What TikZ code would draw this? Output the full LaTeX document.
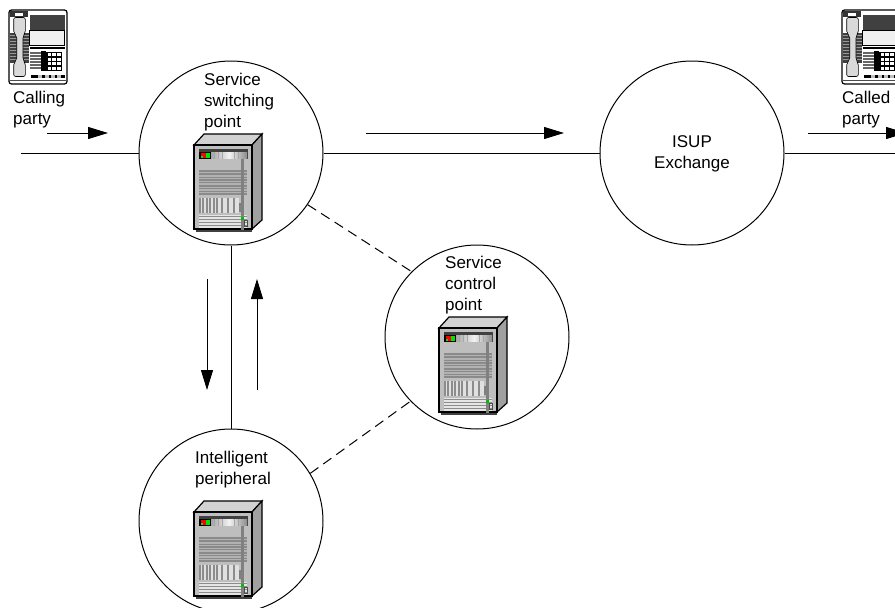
\documentclass[tikz,border=0pt]{standalone}
\usepackage{fontspec}
\setmainfont{Liberation Sans}
\usetikzlibrary{arrows.meta}
\definecolor{srvfront}{HTML}{BEBEBE}
\definecolor{srvside}{HTML}{A0A0A0}
\definecolor{srvtop}{HTML}{D2D2D2}
\definecolor{srvline}{HTML}{8A8A8A}
\tikzset{
  x=1pt,y=-1pt,
  station/.style={circle,draw=black,line width=1pt,minimum size=184pt,inner sep=0pt,fill=white},
  link/.style={line width=1pt,draw=black},
  dashlink/.style={line width=1pt,draw=black,dash pattern=on 10pt off 6pt},
  flow/.style={line width=1pt,draw=black,-{Triangle[length=20pt,width=12pt]}},
  lbl/.style={font=\fontsize{17}{21}\selectfont,align=left,anchor=base west,inner sep=0pt},
  serverpic/.pic={
    \fill[srvtop,draw=black,line width=1.2pt] (0,0)--(10,-11)--(68,-11)--(58,0)--cycle;
    \fill[srvside,draw=black,line width=1.2pt] (58,0)--(68,-11)--(68,75)--(58,84)--cycle;
    \fill[srvfront,draw=black,line width=1.2pt] (0,0) rectangle (58,84);
    \fill[black!75] (2,84.5) rectangle (58,87);
    \fill[black!75] (4.5,4.3) rectangle (53.7,14.3);
    \shade[left color=black!35,right color=black!45,middle color=black!5] (17,7) rectangle (53,13.5);
    \foreach \xx in {20,24,28,40,44}{\fill[black!35] (\xx,7) rectangle (\xx+1,13.5);}
    \fill[black] (5,6.5) rectangle (17,13.5);
    \fill[red] (6.5,8) rectangle (12,12.5);
    \fill[green!90!black] (12,8) rectangle (16.3,12.5);
    \fill[green!90!black] (6.5,10.5) rectangle (9,12.5);
    \fill[black!30] (5,25) rectangle (53,50);
    \foreach \yy/\tt in {25/1.6,28/2,31.5/1.2,34/2,37/1.2,39.5/2,43/1.2,45.5/1.5,48/2}{
      \fill[srvline] (5,\yy) rectangle (53,\yy+\tt);}
    \fill[black!12] (5,53) rectangle (45,68);
    \foreach \xx in {5,7.5,12,14.5,19,21.5,27,33,39}{
      \fill[black!45] (\xx,53) rectangle (\xx+2,68);}
    \fill[black!25] (45,53) rectangle (53,68);
    \fill[black!10] (5,70) rectangle (53,83);
    \foreach \yy in {71,74,77,80}{
      \fill[black!45] (5,\yy) rectangle (53,\yy+1.2);}
    \fill[black!50] (47.3,14) rectangle (49.7,85);
    \fill[black!50] (45,58) rectangle (47.3,67);
    \draw[black!70,line width=.4pt] (49.7,75) rectangle (53.5,81);
    \fill[green!75!black] (47,72) rectangle (49.7,74.5);
  },
  phonepic/.pic={
    \fill[white,draw=black,line width=1.2pt,rounded corners=2.5pt] (0,0) rectangle (58,74);
    \fill[black!75] (20.7,5) rectangle (55.7,20);
    \fill[black!6,draw=black,line width=.5pt] (20.7,20.7) rectangle (55.7,35);
    \fill[black] (20.7,36.7) rectangle (55.7,38.7);
    \fill[black!80] (1.3,1) rectangle (19,6.5);
    \fill[white] (6,3) rectangle (14,5.5);
    \fill[black!75] (1.3,23) rectangle (7.5,53);
    \fill[black!75] (14,23) rectangle (19.7,53);
    \foreach \yy in {25,28,...,51}{
      \fill[white!60!black] (1.3,\yy) rectangle (7.5,\yy+1);
      \fill[white!60!black] (14,\yy) rectangle (19.7,\yy+1);}
    \fill[black!15,draw=black,line width=.6pt,rounded corners=2pt]
      (4.7,7.5)--(16.3,7.5)--(16.3,23)--(14,26)--(14,50)--(16.3,53)--(16.3,66.5)--(4.7,66.5)--(4.7,53)--(7.7,50)--(7.7,26)--(4.7,23)--cycle;
    \fill[black] (32,41) rectangle (37,61);
    \foreach \yy in {42,45,48,51,54,57}{
      \fill[black!60] (21,\yy) rectangle (32,\yy+1.8);
      \fill[white] (21,\yy+1.8) rectangle (32,\yy+2.6);}
    \fill[black] (37,41.5) rectangle (53,61);
    \foreach \xa in {38.5,43.3,48.1}{\foreach \yy in {43,47.5,52,56.5}{
      \fill[white] (\xa,\yy) rectangle (\xa+3.6,\yy+3.4);}}
    \fill[black] (22,65) rectangle (56,68);
    \foreach \xa in {29,35.5,42,48}{\fill[black!25] (\xa,65.3) rectangle (\xa+4,67.7);}
    \fill[black!70] (1,69.5) rectangle (57,70.5);
  }
}
\begin{document}
\begin{tikzpicture}
\useasboundingbox (0,0) rectangle (895,608);
\clip (0,0) rectangle (895,608);
\fill[white] (0,0) rectangle (895,608);
\coordinate (inL) at (21,153);
\coordinate (outR) at (900,153);
\node[station] (ssp) at (231,153) {};
\node[station] (isup) at (692,153) {};
\node[station] (scp) at (477,337) {};
\node[station] (ip) at (231,521) {};
\draw[link] (inL) -- (ssp);
\draw[link] (ssp) -- (isup);
\draw[link] (isup) -- (outR);
\draw[link] (ssp.south) -- (ip.north);
\draw[dashlink] (ssp.-34) -- (scp.135);
\draw[dashlink] (ip.31) -- (scp.224);
\coordinate (a1s) at (47,133); \coordinate (a1e) at (108,133);
\coordinate (a2s) at (366,133); \coordinate (a2e) at (564,133);
\coordinate (a3s) at (808,133); \coordinate (a3e) at (906,133);
\coordinate (a4s) at (207,279); \coordinate (a4e) at (207,390);
\coordinate (a5s) at (257,390); \coordinate (a5e) at (257,279);
\foreach \p in {1,...,5}{\draw[flow] (a\p s) -- (a\p e);}
\pic at (194,145) {serverpic};
\pic at (439,328) {serverpic};
\pic at (194,512) {serverpic};
\pic at (9,10) {phonepic};
\pic at (842,10) {phonepic};
\node[lbl] (tcalling) at (13,124) {Calling\\party};
\node[lbl] (tcalled) at (842,124) {Called\\party};
\node[lbl] (tssp) at (204,127) {Service\\switching\\point};
\node[lbl,align=center,anchor=base] (tisup) at (692,168) {ISUP\\Exchange};
\node[lbl] (tscp) at (445,310) {Service\\control\\point};
\node[lbl] (tip) at (195,484) {Intelligent\\peripheral};
\end{tikzpicture}
\end{document}
